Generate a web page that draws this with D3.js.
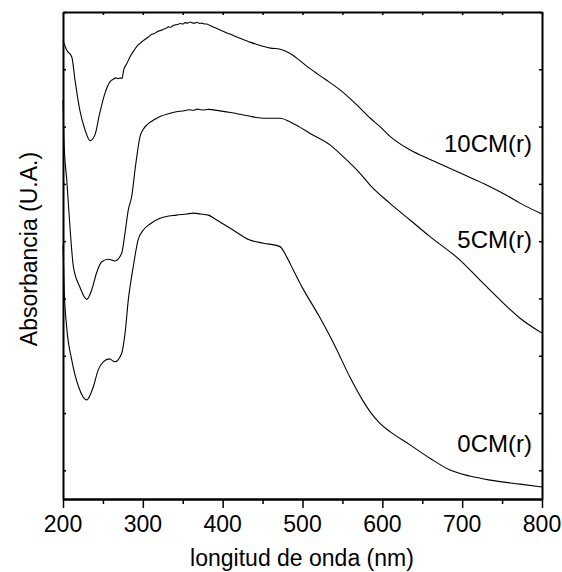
<!DOCTYPE html>
<html>
<head>
<meta charset="utf-8">
<script src="https://cdn.jsdelivr.net/npm/d3@7"></script>
<style>
  body { margin: 0; background: #fff; }
  text { font-family: 'Liberation Sans', Arial, sans-serif; fill: #000; }
  .frame path { stroke: #000; stroke-width: 2px; }
  .frame line { stroke: #000; stroke-width: 1.5px; }
  .tick-label { font-size: 23px; }
  .axis-title { font-size: 23px; }
  .curve-label { font-size: 24px; }
</style>
</head>
<body>
<div class="chart"></div>
<script>
// series names and x tick labels
const seriesNames = ['10CM(r)', '5CM(r)', '0CM(r)']
const xTicks = [200, 300, 400, 500, 600, 700, 800]
const xMinorTicks = [250, 350, 450, 550, 650, 750]
const yTicks = [0.1, 0.3, 0.5, 0.7, 0.9, 1.1, 1.3, 1.5, 1.7]

// 10CM(r)
const wl10 = [200, 204.6, 211, 215, 221, 227.6, 234, 240, 246, 252.6, 259, 263, 266, 269, 272, 274, 276, 280, 284, 289, 294,
  296, 299, 302, 305, 308, 311, 314, 317, 320, 323, 326, 329, 332, 335, 338, 341, 344, 347, 350, 353, 356, 359, 362, 365,
  368, 371, 374, 377, 380, 384, 388, 392, 396, 410, 422, 435, 445, 460, 472, 484, 496, 509, 528, 547, 566, 585, 597, 610,
  635, 660, 685, 710, 735, 755, 773, 800]
const abs10 = [1.602, 1.567, 1.543, 1.463, 1.358, 1.288, 1.251, 1.271, 1.347, 1.417, 1.457, 1.465, 1.470, 1.467, 1.470, 1.468, 1.498, 1.520, 1.544, 1.566, 1.585,
  1.589, 1.597, 1.603, 1.609, 1.615, 1.622, 1.624, 1.629, 1.634, 1.636, 1.640, 1.643, 1.648, 1.647, 1.653, 1.655, 1.657, 1.660, 1.658, 1.663, 1.661, 1.665, 1.662, 1.661,
  1.664, 1.660, 1.661, 1.658, 1.658, 1.653, 1.648, 1.643, 1.638, 1.622, 1.608, 1.594, 1.585, 1.574, 1.570, 1.556, 1.532, 1.503, 1.466, 1.428, 1.381, 1.329, 1.300, 1.265,
  1.218, 1.185, 1.154, 1.122, 1.090, 1.061, 1.032, 0.995]

// 5CM(r)
const wl5 = [200, 201, 205, 209, 213, 221, 229.7, 236, 242, 248.5, 256.8, 265, 273.5, 277.7, 281.8, 286, 291, 296.5, 300, 305,
  313, 321.5, 332, 342, 352, 358, 363, 368, 374, 382, 396.6, 410, 421.7, 433, 444.6, 458, 471.8, 484, 496, 509, 534.5, 551,
  572, 584.6, 609.6, 634.7, 659.7, 697.3, 722.3, 747.4, 772.5, 800]
const abs5 = [1.393, 1.264, 1.103, 0.939, 0.811, 0.741, 0.697, 0.730, 0.789, 0.828, 0.837, 0.831, 0.858, 0.929, 1.009, 1.055, 1.166, 1.265, 1.288, 1.306,
  1.322, 1.335, 1.345, 1.352, 1.355, 1.359, 1.357, 1.361, 1.358, 1.360, 1.355, 1.349, 1.343, 1.337, 1.331, 1.329, 1.329, 1.317, 1.299, 1.277, 1.236, 1.195,
  1.137, 1.096, 1.032, 0.974, 0.916, 0.834, 0.764, 0.695, 0.631, 0.579]

// 0CM(r)
const wl0 = [200, 201.5, 204.6, 211, 219.5, 229.7, 238, 244, 250.5, 258, 265, 273.5, 277.7, 281.8, 288, 294, 300.6, 309,
  321.5, 342, 355, 363, 372, 382, 392.5, 413, 434, 451, 471.8, 480, 488.5, 500, 520, 540, 560, 575, 584.6, 597, 609.6,
  634.7, 659.7, 684.8, 709.8, 735, 772.5, 800]
const abs0 = [0.887, 0.730, 0.601, 0.485, 0.392, 0.346, 0.392, 0.450, 0.479, 0.489, 0.479, 0.509, 0.578, 0.695, 0.811, 0.904, 0.939, 0.960,
  0.980, 0.991, 0.995, 0.998, 0.995, 0.991, 0.974, 0.939, 0.904, 0.893, 0.881, 0.846, 0.799, 0.737, 0.642, 0.538, 0.422, 0.346, 0.305, 0.264, 0.235,
  0.189, 0.142, 0.101, 0.080, 0.066, 0.052, 0.042]

const series = [
  { name: seriesNames[0], wl: wl10, abs: abs10 },
  { name: seriesNames[1], wl: wl5, abs: abs5 },
  { name: seriesNames[2], wl: wl0, abs: abs0 }
]

const W = 562
const H = 572
const margin = { top: 12, right: 20, bottom: 73, left: 63 }

const svg = d3.select('.chart')
  .append('svg')
    .attr('width', W)
    .attr('height', H)

//scales
const x = d3.scaleLinear()
  .domain([200, 800])
  .range([margin.left, W - margin.right])

const y = d3.scaleLinear()
  .domain([0, 1.7])
  .range([H - margin.bottom, margin.top])

//curves
const line = d3.line()
  .x(d => x(d[0]))
  .y(d => y(d[1]))
  .curve(d3.curveMonotoneX)

svg.append('g')
  .selectAll('path')
  .data(series)
  .enter().append('path')
    .attr('d', d => line(d.wl.map((w, i) => [w, d.abs[i]])))
    .attr('fill', 'none')
    .attr('stroke', '#000')
    .attr('stroke-width', 1.1)

//axes (frame)
svg.append('g')
  .attr('class', 'frame')
  .attr('transform', `translate(0,${H - margin.bottom})`)
  .call(d3.axisBottom(x).tickValues(xMinorTicks).tickSize(5).tickSizeOuter(0).tickFormat(''))

svg.append('g')
  .attr('class', 'frame')
  .attr('transform', `translate(0,${H - margin.bottom})`)
  .call(d3.axisBottom(x).tickValues(xTicks).tickSize(9).tickSizeOuter(0).tickFormat(''))

svg.append('g')
  .attr('class', 'frame')
  .attr('transform', `translate(0,${margin.top})`)
  .call(d3.axisTop(x).tickValues(xTicks.concat(xMinorTicks)).tickSize(-3).tickSizeOuter(0).tickFormat(''))

svg.append('g')
  .attr('class', 'frame')
  .attr('transform', `translate(${margin.left},0)`)
  .call(d3.axisLeft(y).tickValues(yTicks).tickSize(-3).tickSizeOuter(0).tickFormat(''))

svg.append('g')
  .attr('class', 'frame')
  .attr('transform', `translate(${W - margin.right},0)`)
  .call(d3.axisRight(y).tickValues(yTicks).tickSize(-3).tickSizeOuter(0).tickFormat(''))

//x tick labels
svg.selectAll('.tick-label')
  .data(xTicks)
  .enter().append('text')
    .attr('class', 'tick-label')
    .attr('x', d => x(d))
    .attr('y', 532)
    .attr('text-anchor', 'middle')
    .text(d => d)

//axis titles
svg.append('text')
  .attr('class', 'axis-title')
  .attr('x', 302)
  .attr('y', 566)
  .attr('text-anchor', 'middle')
  .text('longitud de onda (nm)')

svg.append('text')
  .attr('class', 'axis-title')
  .attr('transform', 'translate(37,249) rotate(-90)')
  .attr('text-anchor', 'middle')
  .text('Absorbancia (U.A.)')

//curve labels
const labelY = [152, 248, 452]
svg.selectAll('.curve-label')
  .data(seriesNames)
  .enter().append('text')
    .attr('class', 'curve-label')
    .attr('x', 532)
    .attr('y', (d, i) => labelY[i])
    .attr('text-anchor', 'end')
    .text(d => d)
</script>
</body>
</html>
